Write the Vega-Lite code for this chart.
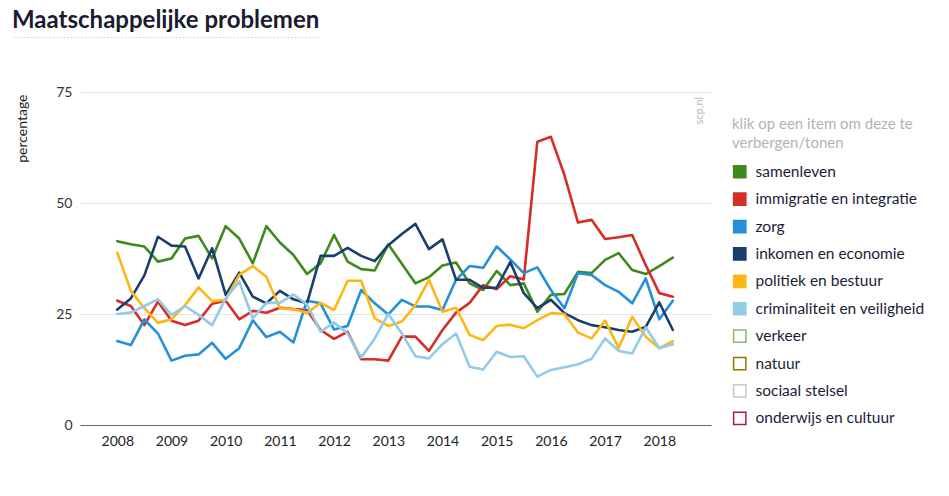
{
  "$schema": "https://vega.github.io/schema/vega-lite/v6.json",
  "width": 631,
  "height": 333,
  "autosize": {"type": "none"},
  "padding": {"left": 80, "top": 92, "right": 238, "bottom": 71},
  "background": "white",
  "config": {"view": {"stroke": null}, "font": "Lato"},
  "title": {
    "text": "Maatschappelijke problemen",
    "subtitle": ".....................................................................................",
    "anchor": "start",
    "frame": "group",
    "dx": -68,
    "offset": 46,
    "fontSize": 24,
    "fontWeight": "bold",
    "font": "Lato",
    "color": "#1b1b30",
    "subtitleFont": "DejaVu Sans Mono",
    "subtitleFontSize": 6,
    "subtitleColor": "#999999",
    "subtitlePadding": 0
  },
  "layer": [
    {
      "data": {
        "values": [
          {"t": 2008.00, "samenleven": 41.4, "immigratie en integratie": 28.0, "zorg": 18.9, "inkomen en economie": 26.0, "politiek en bestuur": 38.8, "criminaliteit en veiligheid": 25.0},
          {"t": 2008.25, "samenleven": 40.7, "immigratie en integratie": 26.8, "zorg": 18.0, "inkomen en economie": 28.5, "politiek en bestuur": 30.2, "criminaliteit en veiligheid": 25.3},
          {"t": 2008.50, "samenleven": 40.2, "immigratie en integratie": 22.5, "zorg": 23.8, "inkomen en economie": 33.7, "politiek en bestuur": 26.3, "criminaliteit en veiligheid": 26.8},
          {"t": 2008.75, "samenleven": 36.8, "immigratie en integratie": 27.8, "zorg": 20.6, "inkomen en economie": 42.4, "politiek en bestuur": 23.0, "criminaliteit en veiligheid": 28.3},
          {"t": 2009.00, "samenleven": 37.5, "immigratie en integratie": 23.5, "zorg": 14.5, "inkomen en economie": 40.4, "politiek en bestuur": 23.8, "criminaliteit en veiligheid": 24.8},
          {"t": 2009.25, "samenleven": 42.0, "immigratie en integratie": 22.5, "zorg": 15.6, "inkomen en economie": 40.2, "politiek en bestuur": 27.0, "criminaliteit en veiligheid": 26.8},
          {"t": 2009.50, "samenleven": 42.6, "immigratie en integratie": 23.5, "zorg": 15.9, "inkomen en economie": 33.0, "politiek en bestuur": 31.0, "criminaliteit en veiligheid": 24.8},
          {"t": 2009.75, "samenleven": 37.5, "immigratie en integratie": 27.3, "zorg": 18.5, "inkomen en economie": 39.8, "politiek en bestuur": 27.9, "criminaliteit en veiligheid": 22.5},
          {"t": 2010.00, "samenleven": 44.8, "immigratie en integratie": 28.0, "zorg": 14.9, "inkomen en economie": 29.3, "politiek en bestuur": 28.2, "criminaliteit en veiligheid": 28.5},
          {"t": 2010.25, "samenleven": 42.0, "immigratie en integratie": 23.8, "zorg": 17.3, "inkomen en economie": 34.3, "politiek en bestuur": 33.8, "criminaliteit en veiligheid": 32.3},
          {"t": 2010.50, "samenleven": 36.4, "immigratie en integratie": 25.7, "zorg": 23.6, "inkomen en economie": 28.9, "politiek en bestuur": 35.8, "criminaliteit en veiligheid": 24.0},
          {"t": 2010.75, "samenleven": 44.8, "immigratie en integratie": 25.3, "zorg": 19.8, "inkomen en economie": 27.4, "politiek en bestuur": 33.4, "criminaliteit en veiligheid": 27.5},
          {"t": 2011.00, "samenleven": 41.1, "immigratie en integratie": 26.4, "zorg": 21.0, "inkomen en economie": 30.2, "politiek en bestuur": 26.3, "criminaliteit en veiligheid": 27.5},
          {"t": 2011.25, "samenleven": 38.3, "immigratie en integratie": 26.1, "zorg": 18.6, "inkomen en economie": 28.3, "politiek en bestuur": 26.1, "criminaliteit en veiligheid": 29.4},
          {"t": 2011.50, "samenleven": 34.0, "immigratie en integratie": 25.9, "zorg": 28.0, "inkomen en economie": 27.4, "politiek en bestuur": 25.2, "criminaliteit en veiligheid": 27.2},
          {"t": 2011.75, "samenleven": 36.4, "immigratie en integratie": 21.4, "zorg": 27.4, "inkomen en economie": 38.1, "politiek en bestuur": 27.5, "criminaliteit en veiligheid": 21.0},
          {"t": 2012.00, "samenleven": 42.8, "immigratie en integratie": 19.4, "zorg": 21.5, "inkomen en economie": 38.1, "politiek en bestuur": 25.9, "criminaliteit en veiligheid": 23.1},
          {"t": 2012.25, "samenleven": 36.8, "immigratie en integratie": 21.0, "zorg": 22.3, "inkomen en economie": 39.9, "politiek en bestuur": 32.5, "criminaliteit en veiligheid": 20.6},
          {"t": 2012.50, "samenleven": 35.1, "immigratie en integratie": 14.8, "zorg": 30.4, "inkomen en economie": 38.1, "politiek en bestuur": 32.5, "criminaliteit en veiligheid": 15.2},
          {"t": 2012.75, "samenleven": 34.8, "immigratie en integratie": 14.8, "zorg": 27.4, "inkomen en economie": 36.9, "politiek en bestuur": 24.0, "criminaliteit en veiligheid": 19.5},
          {"t": 2013.00, "samenleven": 40.7, "immigratie en integratie": 14.5, "zorg": 24.9, "inkomen en economie": 40.5, "politiek en bestuur": 22.3, "criminaliteit en veiligheid": 25.0},
          {"t": 2013.25, "samenleven": 36.3, "immigratie en integratie": 19.9, "zorg": 28.2, "inkomen en economie": 43.0, "politiek en bestuur": 23.3, "criminaliteit en veiligheid": 20.6},
          {"t": 2013.50, "samenleven": 31.9, "immigratie en integratie": 19.9, "zorg": 26.7, "inkomen en economie": 45.3, "politiek en bestuur": 27.0, "criminaliteit en veiligheid": 15.5},
          {"t": 2013.75, "samenleven": 33.3, "immigratie en integratie": 16.7, "zorg": 26.7, "inkomen en economie": 39.6, "politiek en bestuur": 32.7, "criminaliteit en veiligheid": 15.0},
          {"t": 2014.00, "samenleven": 35.9, "immigratie en integratie": 21.4, "zorg": 25.9, "inkomen en economie": 41.8, "politiek en bestuur": 25.5, "criminaliteit en veiligheid": 18.2},
          {"t": 2014.25, "samenleven": 36.6, "immigratie en integratie": 25.3, "zorg": 32.7, "inkomen en economie": 32.7, "politiek en bestuur": 26.4, "criminaliteit en veiligheid": 20.6},
          {"t": 2014.50, "samenleven": 31.9, "immigratie en integratie": 27.5, "zorg": 35.8, "inkomen en economie": 32.7, "politiek en bestuur": 20.3, "criminaliteit en veiligheid": 13.1},
          {"t": 2014.75, "samenleven": 30.4, "immigratie en integratie": 31.5, "zorg": 35.4, "inkomen en economie": 30.9, "politiek en bestuur": 19.1, "criminaliteit en veiligheid": 12.5},
          {"t": 2015.00, "samenleven": 34.7, "immigratie en integratie": 30.6, "zorg": 40.2, "inkomen en economie": 30.9, "politiek en bestuur": 22.3, "criminaliteit en veiligheid": 16.5},
          {"t": 2015.25, "samenleven": 31.5, "immigratie en integratie": 33.5, "zorg": 37.3, "inkomen en economie": 36.7, "politiek en bestuur": 22.6, "criminaliteit en veiligheid": 15.3},
          {"t": 2015.50, "samenleven": 31.9, "immigratie en integratie": 32.8, "zorg": 34.2, "inkomen en economie": 29.7, "politiek en bestuur": 21.8, "criminaliteit en veiligheid": 15.5},
          {"t": 2015.75, "samenleven": 25.5, "immigratie en integratie": 63.8, "zorg": 35.5, "inkomen en economie": 26.3, "politiek en bestuur": 23.6, "criminaliteit en veiligheid": 10.9},
          {"t": 2016.00, "samenleven": 29.3, "immigratie en integratie": 64.9, "zorg": 30.4, "inkomen en economie": 28.2, "politiek en bestuur": 25.2, "criminaliteit en veiligheid": 12.4},
          {"t": 2016.25, "samenleven": 29.5, "immigratie en integratie": 56.3, "zorg": 26.3, "inkomen en economie": 25.2, "politiek en bestuur": 25.0, "criminaliteit en veiligheid": 13.0},
          {"t": 2016.50, "samenleven": 34.5, "immigratie en integratie": 45.6, "zorg": 34.2, "inkomen en economie": 23.6, "politiek en bestuur": 20.8, "criminaliteit en veiligheid": 13.7},
          {"t": 2016.75, "samenleven": 34.2, "immigratie en integratie": 46.2, "zorg": 33.8, "inkomen en economie": 22.5, "politiek en bestuur": 19.5, "criminaliteit en veiligheid": 14.9},
          {"t": 2017.00, "samenleven": 37.2, "immigratie en integratie": 41.9, "zorg": 31.5, "inkomen en economie": 22.0, "politiek en bestuur": 23.5, "criminaliteit en veiligheid": 19.5},
          {"t": 2017.25, "samenleven": 38.7, "immigratie en integratie": 42.3, "zorg": 30.0, "inkomen en economie": 21.4, "politiek en bestuur": 17.3, "criminaliteit en veiligheid": 16.7},
          {"t": 2017.50, "samenleven": 34.9, "immigratie en integratie": 42.8, "zorg": 27.4, "inkomen en economie": 21.0, "politiek en bestuur": 24.4, "criminaliteit en veiligheid": 16.1},
          {"t": 2017.75, "samenleven": 34.0, "immigratie en integratie": 36.0, "zorg": 33.0, "inkomen en economie": 22.1, "politiek en bestuur": 19.9, "criminaliteit en veiligheid": 22.0},
          {"t": 2018.00, "samenleven": 35.8, "immigratie en integratie": 29.7, "zorg": 23.8, "inkomen en economie": 27.6, "politiek en bestuur": 17.3, "criminaliteit en veiligheid": 17.3},
          {"t": 2018.25, "samenleven": 37.7, "immigratie en integratie": 28.9, "zorg": 28.0, "inkomen en economie": 21.4, "politiek en bestuur": 18.9, "criminaliteit en veiligheid": 18.2}
        ]
      },
      "transform": [
        {"fold": ["samenleven", "immigratie en integratie", "zorg", "inkomen en economie", "politiek en bestuur", "criminaliteit en veiligheid"], "as": ["reeks", "waarde"]}
      ],
      "mark": {"type": "line", "strokeWidth": 2.6, "strokeJoin": "round", "strokeCap": "round"},
      "encoding": {
        "x": {
          "field": "t",
          "type": "quantitative",
          "scale": {"domain": [2007.312, 2018.954], "nice": false, "zero": false},
          "axis": {
            "values": [2008, 2009, 2010, 2011, 2012, 2013, 2014, 2015, 2016, 2017, 2018],
            "format": "d",
            "grid": false,
            "ticks": false,
            "domainColor": "#666666",
            "domainWidth": 1,
            "labelFontSize": 14,
            "labelColor": "#222222",
            "labelPadding": 9,
            "labelFlush": false,
            "title": null
          }
        },
        "y": {
          "field": "waarde",
          "type": "quantitative",
          "scale": {"domain": [0, 75], "nice": false},
          "axis": {
            "values": [0, 25, 50, 75],
            "grid": true,
            "gridColor": "#e3e3e3",
            "domain": false,
            "ticks": false,
            "labelFontSize": 14,
            "labelColor": "#333333",
            "labelPadding": 8,
            "title": "percentage",
            "titleFontSize": 14,
            "titleFontWeight": "normal",
            "titleColor": "#222222",
            "titleAngle": 270,
            "titleX": -58,
            "titleY": 2,
            "titleAlign": "right",
            "titleBaseline": "middle"
          }
        },
        "color": {
          "field": "reeks",
          "type": "nominal",
          "scale": {
            "domain": ["samenleven", "immigratie en integratie", "zorg", "inkomen en economie", "politiek en bestuur", "criminaliteit en veiligheid", "verkeer", "natuur", "sociaal stelsel", "onderwijs en cultuur"],
            "range": ["#3f8a1c", "#d62d27", "#2590d8", "#1a3f6e", "#fdb714", "#92cbe8", "#86bc6c", "#9c7300", "#c8c8c8", "#a3195b"]
          },
          "legend": {
            "orient": "none",
            "legendX": 652,
            "legendY": 25,
            "title": ["klik op een item om deze te", "verbergen/tonen"],
            "titleFontSize": 15,
            "titleFontWeight": "normal",
            "titleColor": "#b3b3b3",
            "titleLineHeight": 19,
            "titlePadding": 13,
            "titleLimit": 300,
            "symbolType": "square",
            "symbolSize": 150,
            "symbolStrokeWidth": 1.5,
            "labelFontSize": 15.5,
            "labelColor": "#1c1c38",
            "labelOffset": 8,
            "labelLimit": 300,
            "rowPadding": 8.4,
            "encode": {
              "symbols": {
                "update": {
                  "fill": {"signal": "indexof(['verkeer','natuur','sociaal stelsel','onderwijs en cultuur'], datum.value) >= 0 ? '#ffffff' : scale('color', datum.value)"},
                  "stroke": {"signal": "scale('color', datum.value)"},
                  "opacity": {"value": 1}
                }
              }
            }
          }
        }
      }
    },
    {
      "data": {"values": [{"label": "scp.nl"}]},
      "mark": {"type": "text", "angle": 270, "align": "right", "baseline": "middle", "fontSize": 11, "color": "#bbbbbb"},
      "encoding": {
        "x": {"datum": 2018.75},
        "y": {"datum": 73.9},
        "text": {"field": "label"}
      }
    }
  ]
}
